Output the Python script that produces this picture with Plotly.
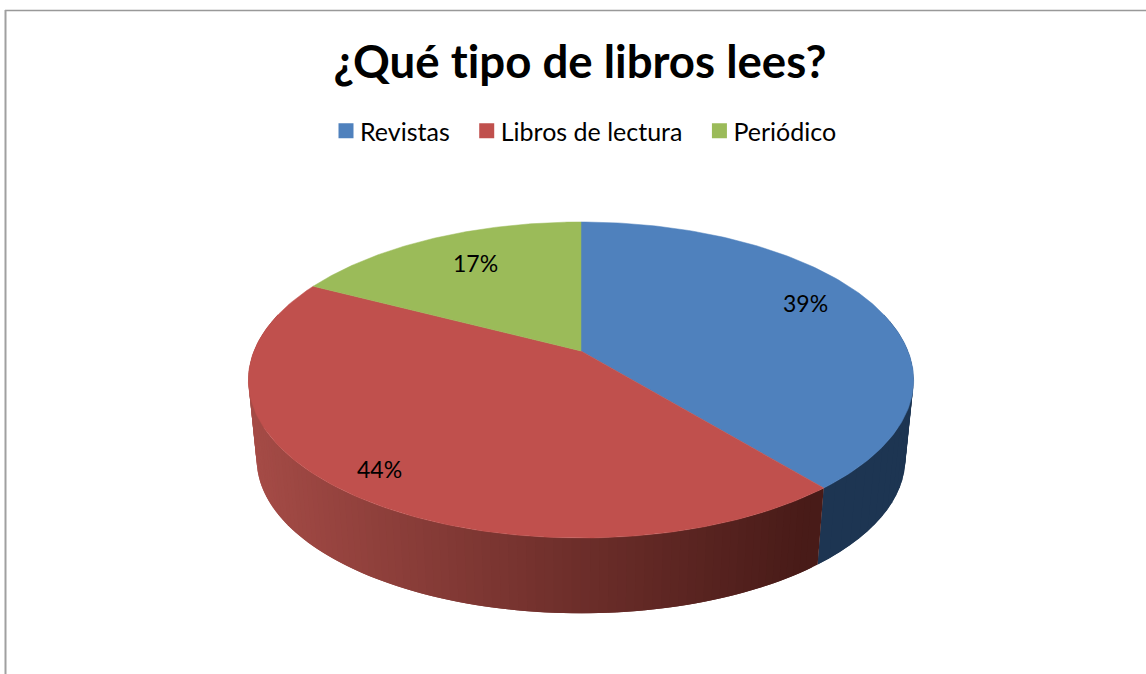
import numpy as np
import plotly.graph_objects as go

title = "¿Qué tipo de libros lees?"
categories = ["Revistas", "Libros de lectura", "Periódico"]
values = [39, 43.6, 17.4]
value_labels = ["39%", "44%", "17%"]
colors = ["#4F81BD", "#C0504D", "#9BBB59"]

W, H = 1146, 674
CX, CY = 581, 351
A, B, K = 327.0, 152.7, 0.1835
DROP, SHRINK = 80.0, 0.975
label_px = [(805, 303), (379, 469), (475, 263)]


def project(theta, bottom=False):
    x, y = np.sin(theta), -np.cos(theta)
    d = 1 - K * y
    s, off = (SHRINK, DROP) if bottom else (1.0, 0.0)
    return CX + s * A * x / d, CY + off + s * B * y / d


def side_color(i, px):
    if i == 0:
        return "#1D3552"
    t = np.clip((px - 250) / (820 - 250), 0, 1)
    c0, c1 = np.array([166, 76, 71]), np.array([72, 27, 24])
    c = c0 + (c1 - c0) * t
    return "rgb(%d,%d,%d)" % tuple(c)


def wall(t0, t1, col):
    seg = np.array([t0, t1])
    xt, yt = project(seg)
    xb, yb = project(seg[::-1], True)
    fig.add_trace(go.Scatter(x=np.concatenate([xt, xb, xt[:1]]), y=np.concatenate([yt, yb, yt[:1]]),
                             mode="lines", fill="toself", fillcolor=col,
                             line=dict(color=col, width=0), showlegend=False, hoverinfo="skip"))


fig = go.Figure()
fractions = np.array(values, float) / sum(values)
edges = np.concatenate([[0], np.cumsum(fractions)]) * 2 * np.pi

# side wall: overlapping quads, painted so no seams show
vis0, vis1 = np.pi / 2 - 0.25, 3 * np.pi / 2 + 0.25
for i in (0, 1):
    a0, a1 = max(edges[i], vis0), min(edges[i + 1], vis1)
    ts = np.linspace(a0, a1, 25 if i == 0 else 110)
    step = ts[1] - ts[0]
    for t0 in ts[:-1][::-1]:
        col = side_color(i, float(project(np.array([t0]))[0][0]))
        wall(t0, min(t0 + 2 * step, a1), col)

# top face
for i, (name, col) in enumerate(zip(categories, colors)):
    th = np.linspace(edges[i], edges[i + 1], 150)
    xr, yr = project(th)
    fig.add_trace(go.Scatter(x=np.concatenate([[CX], xr, [CX]]), y=np.concatenate([[CY], yr, [CY]]),
                             mode="lines", fill="toself", fillcolor=col, line=dict(color=col, width=0.5),
                             showlegend=False, name=name, text=value_labels[i], hoverinfo="name+text"))

# legend entries
for name, col in zip(categories, colors):
    fig.add_trace(go.Scatter(x=[None], y=[None], mode="markers", name=name,
                             marker=dict(symbol="square", size=15, color=col)))

for (lx, ly), txt in zip(label_px, value_labels):
    fig.add_annotation(x=lx, y=ly, text=txt, showarrow=False,
                       font=dict(family="Lato", size=23, color="black"))

fig.update_layout(
    width=W, height=H, autosize=False,
    margin=dict(l=0, r=0, t=0, b=0),
    paper_bgcolor="white", plot_bgcolor="white",
    font=dict(family="Lato", color="black"),
    title=dict(text="<b>%s</b>" % title, x=580 / W, xanchor="center", y=1 - 62 / H, yanchor="middle",
               font=dict(family="Lato", size=45.6, color="black")),
    xaxis=dict(range=[0, W], visible=False, fixedrange=True),
    yaxis=dict(range=[H, 0], visible=False, fixedrange=True),
    legend=dict(orientation="h", x=326 / W, xanchor="left", y=1 - 131 / H, yanchor="middle",
                font=dict(family="Lato", size=25, color="black"), itemsizing="trace",
                bgcolor="rgba(0,0,0,0)"),
    shapes=[
        dict(type="line", xref="x", yref="y", x0=5, x1=W, y0=10.5, y1=10.5, line=dict(color="#999999", width=1.5)),
        dict(type="line", xref="x", yref="y", x0=5.5, x1=5.5, y0=10, y1=H, line=dict(color="#A0A0A0", width=2)),
    ],
)

post = """
document.body.style.margin='0';
document.documentElement.style.overflow='hidden';
var st=document.createElement('style');st.textContent='text{font-variant-ligatures:none !important}';document.head.appendChild(st);
function tightenLegend(){
  var extra=[0,6,12];
  document.querySelectorAll('.legend .scrollbox').forEach(function(b){b.removeAttribute('clip-path');});
  var lg=document.querySelector('.legend');
  if(lg){lg.removeAttribute('clip-path');}
  document.querySelectorAll('.legend .traces').forEach(function(g,i){
    if(g.dataset.moved){return;} g.dataset.moved='1';
    var m=/translate\\(([-\\d.]+)[ ,]+([-\\d.]+)\\)/.exec(g.getAttribute('transform')||'');
    if(m){g.setAttribute('transform','translate('+(parseFloat(m[1])+extra[i])+','+m[2]+')');}
    var t=g.querySelector('.legendtext');
    if(t){t.setAttribute('x',parseFloat(t.getAttribute('x'))-6);}
  });
}
tightenLegend();setTimeout(tightenLegend,0);
"""
fig.write_html("out.html", config={"displayModeBar": False}, post_script=post)
